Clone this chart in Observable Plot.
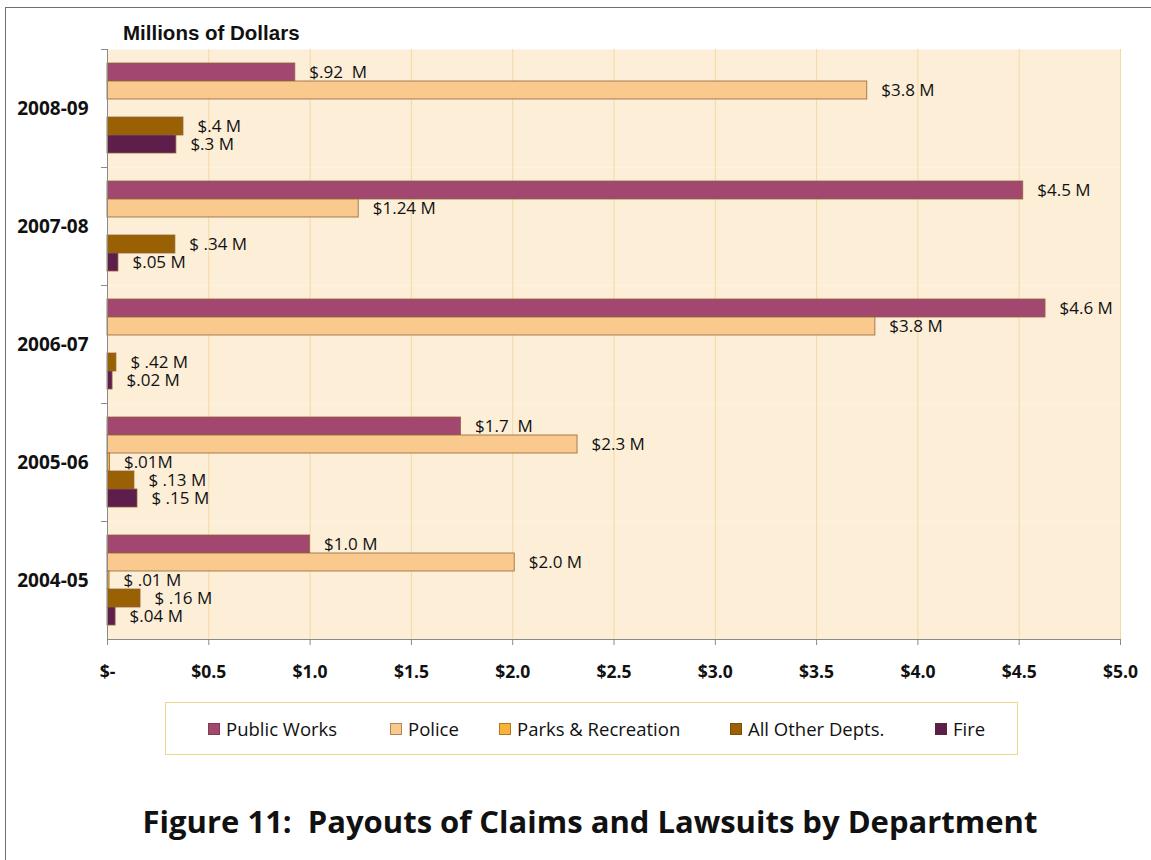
<!DOCTYPE html>
<html>
<head>
<meta charset="utf-8">
<script src="https://cdn.jsdelivr.net/npm/d3@7"></script>
<script src="https://cdn.jsdelivr.net/npm/@observablehq/plot@0.6"></script>
<style>
  html, body { margin: 0; padding: 0; background: #fff; }
  #wrap { position: relative; width: 1151px; height: 860px; overflow: hidden; font-family: "Open Sans", sans-serif; }
  #frame { position: absolute; left: 5px; top: 7px; right: -10px; bottom: -10px; border-top: 1.5px solid #6f6f6f; border-left: 1.5px solid #6f6f6f; }
  #chart { position: absolute; left: 0; top: 0; }
  #unit { position: absolute; left: 123px; top: 20px; font-family: "Liberation Sans", Arial, sans-serif; font-weight: bold; font-size: 20.5px; line-height: 26px; color: #111; }
  #legend { position: absolute; left: 165px; top: 702px; width: 851px; height: 51px; border: 1.5px solid #F0D48E; background: #fff; }
  .item { position: absolute; top: 0; height: 51px; display: flex; align-items: center; font-size: 18.5px; color: #111; white-space: nowrap; }
  .sw { width: 10px; height: 10px; margin-right: 6px; border: 1px solid rgba(90,50,20,0.45); }
  #title { position: absolute; left: 0; width: 1180px; top: 799px; text-align: center; font-weight: bold; font-size: 31px; line-height: 44px; color: #111; white-space: pre; }
  svg text { white-space: pre; }
</style>
</head>
<body>
<div id="wrap">
  <div id="frame"></div>
  <div id="chart"></div>
  <div id="unit">Millions of Dollars</div>
  <div id="legend"></div>
  <div id="title">Figure 11:  Payouts of Claims and Lawsuits by Department</div>
</div>
<script>
// ---- data (years bottom to top) ----
const years = ["2004-05", "2005-06", "2006-07", "2007-08", "2008-09"];
const departments = ["Public Works", "Police", "Parks & Recreation", "All Other Depts.", "Fire"];
const colors = ["#A2476F", "#F9C98E", "#F8B236", "#9A6104", "#5D1E4C"];

const publicWorks = [1.0, 1.745, 4.63, 4.52, 0.927];
const police      = [2.01, 2.32, 3.79, 1.24, 3.75];
const parks       = [0.01, 0.012, 0, 0, 0];
const allOther    = [0.163, 0.133, 0.044, 0.335, 0.375];
const fire        = [0.04, 0.148, 0.025, 0.054, 0.34];

const publicWorksLabels = ["$1.0 M", "$1.7  M", "$4.6 M", "$4.5 M", "$.92  M"];
const policeLabels      = ["$2.0 M", "$2.3 M", "$3.8 M", "$1.24 M", "$3.8 M"];
const parksLabels       = ["$ .01 M", "$.01M", "", "", ""];
const allOtherLabels    = ["$ .16 M", "$ .13 M", "$ .42 M", "$ .34 M", "$.4 M"];
const fireLabels        = ["$.04 M", "$ .15 M", "$.02 M", "$.05 M", "$.3 M"];

const xTicks = [0, 0.5, 1.0, 1.5, 2.0, 2.5, 3.0, 3.5, 4.0, 4.5, 5.0];

// ---- build long table ----
const seriesValues = [publicWorks, police, parks, allOther, fire];
const seriesLabels = [publicWorksLabels, policeLabels, parksLabels, allOtherLabels, fireLabels];
const rows = [];
years.forEach((yr, i) => {
  departments.forEach((dep, k) => {
    rows.push({year: yr, dept: dep, value: seriesValues[k][i], label: seriesLabels[k][i]});
  });
});
const barRows = rows.filter(d => d.value > 0);
const labelRows = rows.filter(d => d.label !== "");

const width = 1151, height = 690;
const mL = 107, mR = 31, mT = 47, mB = 50;
const plotW = width - mL - mR;

const chart = Plot.plot({
  width, height,
  marginLeft: mL, marginRight: mR, marginTop: mT, marginBottom: mB,
  style: {fontFamily: "'Open Sans', sans-serif", background: "transparent"},
  x: {domain: [0, 5], ticks: xTicks},
  y: {domain: departments, paddingInner: 0, paddingOuter: 0.62, axis: null},
  fy: {domain: years.slice().reverse(), padding: 0, axis: null},
  color: {domain: departments, range: colors},
  marks: [
    Plot.frame({fill: "#FDEED8", stroke: "none"}),
    Plot.gridX({ticks: xTicks, stroke: "#F4D9A2", strokeOpacity: 1, strokeWidth: 1}),
    Plot.barX(barRows, {fy: "year", y: "dept", x: "value", fill: "dept",
      stroke: "#8E6234", strokeWidth: 0.9, strokeOpacity: 0.85}),
    Plot.text(labelRows, {fy: "year", y: "dept", x: "value", text: "label",
      textAnchor: "start", dx: 14, fontSize: 17, fill: "#111"}),
    Plot.ruleX([0], {stroke: "#8a8a8a", strokeWidth: 1}),
    Plot.frame({anchor: "top", stroke: "#8a8a8a", strokeWidth: 1, insetRight: plotW - 6, dx: -6}),
    Plot.frame({anchor: "bottom", stroke: "#8a8a8a", strokeWidth: 1, facetAnchor: "bottom"}),
    Plot.axisFy({anchor: "left", tickSize: 0, tickPadding: 19, fontSize: 19, fontWeight: "bold", label: null, fill: "#111"}),
    Plot.axisX({ticks: xTicks, tickSize: 6, tickPadding: 20, stroke: "#8a8a8a", fontSize: 17.5, fontWeight: "bold", fill: "#111",
      label: null, tickFormat: d => d === 0 ? "$-" : "$" + d.toFixed(1)})
  ]
});
document.getElementById("chart").appendChild(chart);

// ---- legend ----
const legendLefts = [42, 224, 333, 564, 769];
const legend = document.getElementById("legend");
departments.forEach((dep, k) => {
  const item = document.createElement("div");
  item.className = "item";
  item.style.left = legendLefts[k] + "px";
  const sw = document.createElement("span");
  sw.className = "sw";
  sw.style.background = colors[k];
  const tx = document.createElement("span");
  tx.textContent = dep;
  item.appendChild(sw);
  item.appendChild(tx);
  legend.appendChild(item);
});
</script>
</body>
</html>
